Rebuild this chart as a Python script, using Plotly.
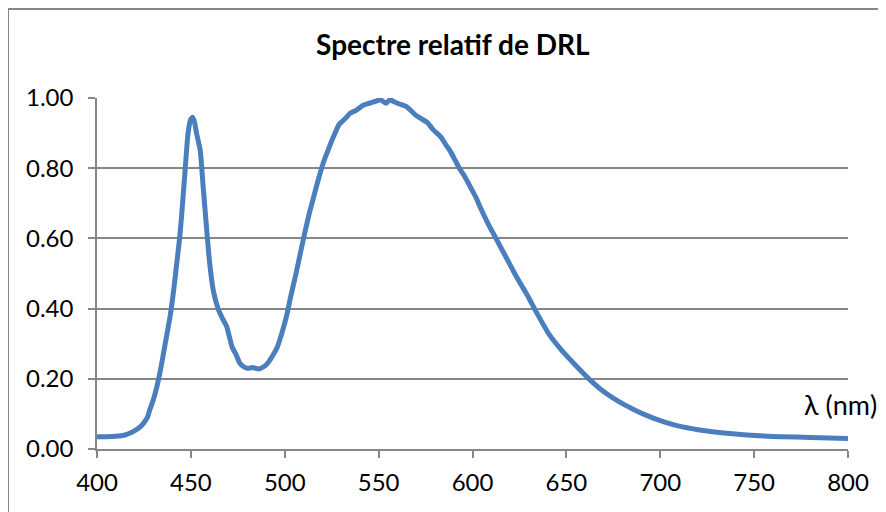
import plotly.graph_objects as go

LINE = "#4A7EBD"
GRIDC = "#868686"
INK = "#000000"

wavelength_nm = [
    400, 405, 410, 415, 418, 421, 423, 425, 427, 428, 430, 432, 434, 436, 439, 441,
    442.5, 444, 445, 447, 448.5, 450, 451, 452, 453, 455, 456.5, 458.5, 460, 462,
    464.5, 467, 469, 472, 474, 476, 478, 480, 483, 486, 489, 491, 494, 496, 499, 501,
    503, 506, 510, 513, 515, 518, 520.5, 523, 526, 529, 532, 535, 538, 542, 545, 548,
    551, 554, 556, 558, 561, 565, 568, 570, 573, 576, 579, 583, 586, 588, 591, 593,
    596, 599, 602, 604, 608, 613, 618, 623.5, 629, 634, 641, 648, 655, 662, 670, 678,
    685, 693, 702, 710, 720, 728, 737, 746, 755, 764, 780, 800,
]
relative_power = [
    0.035, 0.035, 0.036, 0.040, 0.046, 0.055, 0.063, 0.075, 0.092, 0.11, 0.14, 0.18,
    0.23, 0.29, 0.38, 0.46, 0.53, 0.60, 0.66, 0.80, 0.90, 0.94, 0.945, 0.93, 0.90,
    0.85, 0.75, 0.62, 0.53, 0.45, 0.40, 0.37, 0.35, 0.29, 0.27, 0.245, 0.235, 0.23,
    0.232, 0.228, 0.235, 0.245, 0.27, 0.29, 0.34, 0.38, 0.43, 0.50, 0.60, 0.67, 0.71,
    0.77, 0.815, 0.85, 0.89, 0.925, 0.94, 0.957, 0.965, 0.98, 0.985, 0.99, 0.995,
    0.985, 0.995, 0.99, 0.983, 0.975, 0.96, 0.95, 0.94, 0.93, 0.91, 0.89, 0.865, 0.85,
    0.82, 0.80, 0.775, 0.745, 0.715, 0.69, 0.645, 0.595, 0.545, 0.49, 0.44, 0.39, 0.325,
    0.278, 0.238, 0.200, 0.163, 0.135, 0.115, 0.095, 0.077, 0.065, 0.055, 0.049, 0.044,
    0.040, 0.037, 0.035, 0.033, 0.030,
]
x_ticks = [400, 450, 500, 550, 600, 650, 700, 750, 800]
y_ticks = [0, 0.2, 0.4, 0.6, 0.8, 1.0]

fig = go.Figure()
fig.add_trace(
    go.Scatter(
        x=wavelength_nm,
        y=relative_power,
        mode="lines",
        line=dict(color=LINE, width=5, shape="spline", smoothing=0.5),
        showlegend=False,
    )
)

# the page puts the figure 8px in from the top-left corner, margins allow for it
fig.update_layout(
    width=886,
    height=512,
    paper_bgcolor="white",
    plot_bgcolor="white",
    font=dict(family="Lato, Carlito, Arial, sans-serif", color=INK, size=24),
    title=dict(
        text="<b>Spectre relatif de DRL</b>",
        font=dict(size=28, color=INK),
        x=0.502,
        xanchor="center",
        y=0.928,
        yanchor="middle",
    ),
    margin=dict(l=89, r=46, t=90, b=71),
    showlegend=False,
)
fig.update_xaxes(
    range=[400, 800],
    tickvals=x_ticks,
    showgrid=False,
    zeroline=False,
    showline=True,
    linecolor=GRIDC,
    linewidth=1.5,
    ticks="outside",
    ticklen=7,
    tickwidth=1.5,
    tickcolor=GRIDC,
    ticklabelstandoff=4,
)
fig.update_yaxes(
    range=[0, 1.0],
    tickvals=y_ticks,
    tickformat=".2f",
    showgrid=True,
    gridcolor=GRIDC,
    gridwidth=1.5,
    zeroline=False,
    showline=True,
    linecolor=GRIDC,
    linewidth=1.5,
    ticks="outside",
    ticklen=7,
    tickwidth=1.5,
    tickcolor=GRIDC,
    ticklabelstandoff=10,
)

fig.add_annotation(
    text="λ (nm)",
    xref="paper",
    yref="paper",
    x=0.99,
    y=0.128,
    xanchor="center",
    yanchor="middle",
    showarrow=False,
    font=dict(size=27, color=INK),
)

# outer chart border, cut off on the right and bottom like the original
fig.add_shape(
    type="rect",
    xref="paper",
    yref="paper",
    x0=-0.1185,
    x1=1.07,
    y0=-0.25,
    y1=1.2536,
    line=dict(color=GRIDC, width=2),
    layer="below",
)

fig.write_html("out.html")
